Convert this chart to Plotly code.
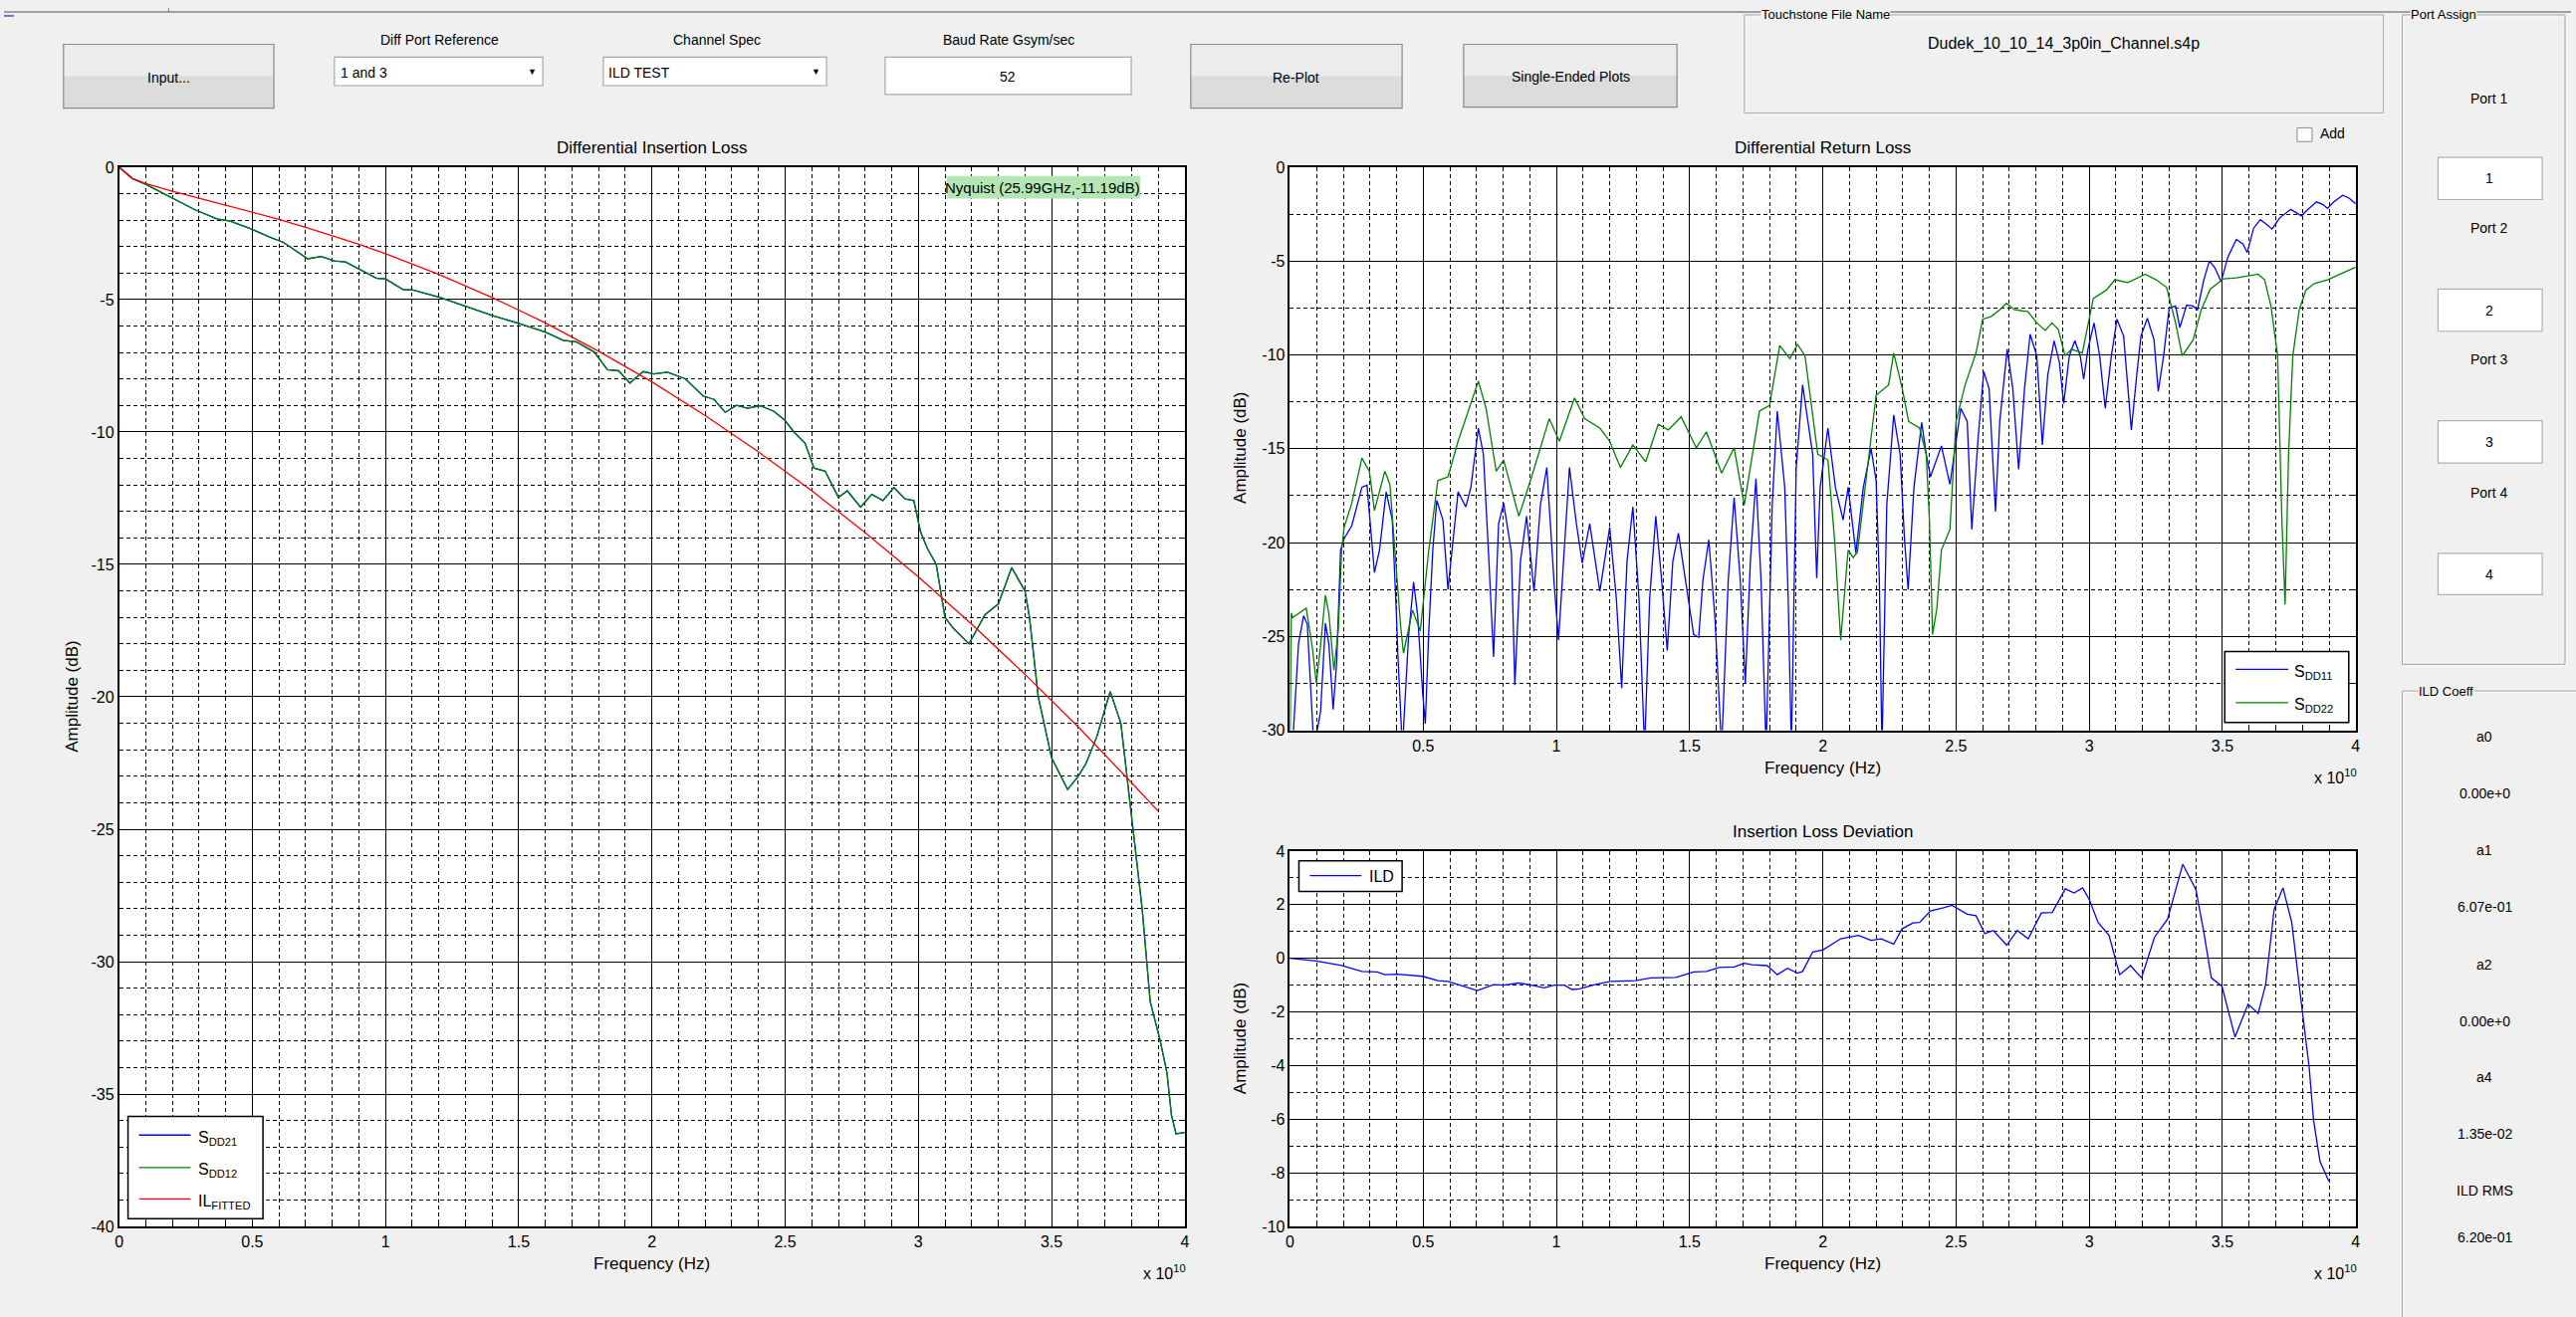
import plotly.graph_objects as go

W, H = 2587, 1323
FONT = "Liberation Sans, Arial, sans-serif"

# ---------------- data (frequency in units of 1e10 Hz, amplitude in dB) ----------------
il_freq = [0, 0.05, 0.1, 0.2, 0.283, 0.367, 0.417, 0.5, 0.567, 0.617, 0.708, 0.758, 0.808, 0.85, 0.9,
           0.967, 1.0, 1.067, 1.1, 1.2, 1.3, 1.4, 1.5, 1.6, 1.667, 1.717, 1.783, 1.833, 1.875, 1.917,
           1.967, 2.008, 2.058, 2.125, 2.192, 2.233, 2.275, 2.317, 2.358, 2.408, 2.458, 2.5, 2.533,
           2.575, 2.608, 2.65, 2.7, 2.733, 2.783, 2.825, 2.867, 2.908, 2.95, 2.983, 3.008, 3.033,
           3.067, 3.1, 3.13, 3.19, 3.25, 3.3, 3.35, 3.4, 3.417, 3.45, 3.5, 3.56, 3.6, 3.63, 3.67,
           3.72, 3.76, 3.8, 3.84, 3.87, 3.908, 3.933, 3.95, 3.967, 4.0]
sdd12_db = [0, -0.43, -0.65, -1.17, -1.6, -1.95, -2.04, -2.35, -2.65, -2.84, -3.46, -3.37, -3.54, -3.58,
            -3.85, -4.2, -4.22, -4.63, -4.63, -4.9, -5.25, -5.6, -5.9, -6.23, -6.54, -6.6, -6.98, -7.65,
            -7.69, -8.15, -7.72, -7.81, -7.74, -7.99, -8.64, -8.77, -9.26, -8.99, -9.1, -9.01, -9.22,
            -9.57, -10.0, -10.43, -11.36, -11.48, -12.47, -12.22, -12.84, -12.35, -12.59, -12.1, -12.53,
            -12.59, -13.77, -14.38, -15.0, -17.0, -17.4, -18.0, -16.9, -16.5, -15.12, -16.0, -17.0,
            -20.0, -22.3, -23.5, -23.0, -22.5, -21.5, -19.8, -21.0, -24.5, -28.0, -31.5, -33.0, -34.2,
            -35.8, -36.5, -36.45]
sdd21_db = list(sdd12_db)  # visually identical, drawn underneath

fit_freq = [0, 0.05, 0.1, 0.2, 0.3, 0.4, 0.5, 0.6, 0.7, 0.8, 0.9, 1.0, 1.2, 1.4, 1.6, 1.8, 2.0, 2.2,
            2.4, 2.6, 2.8, 3.0, 3.2, 3.4, 3.6, 3.8, 3.9]
fit_db = [0, -0.43, -0.62, -0.91, -1.17, -1.43, -1.69, -1.97, -2.27, -2.58, -2.91, -3.27, -4.05,
          -4.92, -5.88, -6.95, -8.11, -9.38, -10.75, -12.22, -13.8, -15.47, -17.26, -19.15, -21.14,
          -23.24, -24.32]

sdd11_freq = [0.005, 0.032, 0.051, 0.065, 0.08, 0.09, 0.115, 0.133, 0.146, 0.162, 0.175, 0.19, 0.203,
              0.232, 0.27, 0.289, 0.317, 0.336, 0.361, 0.384, 0.4, 0.405, 0.422, 0.445, 0.464, 0.479,
              0.498, 0.508, 0.521, 0.536, 0.551, 0.574, 0.593, 0.631, 0.66, 0.679, 0.707, 0.726, 0.745,
              0.764, 0.783, 0.802, 0.831, 0.844, 0.865, 0.888, 0.916, 0.94, 0.964, 0.992, 1.008, 1.03,
              1.049, 1.075, 1.097, 1.125, 1.163, 1.2, 1.225, 1.245, 1.265, 1.287, 1.31, 1.331, 1.35,
              1.373, 1.395, 1.416, 1.437, 1.458, 1.496, 1.515, 1.534, 1.55, 1.572, 1.595, 1.62, 1.645,
              1.667, 1.69, 1.709, 1.728, 1.749, 1.768, 1.787, 1.81, 1.829, 1.857, 1.87, 1.882, 1.9,
              1.924, 1.962, 1.977, 1.99, 2.019, 2.047, 2.076, 2.095, 2.124, 2.152, 2.181, 2.2, 2.212,
              2.222, 2.24, 2.266, 2.29, 2.306, 2.32, 2.342, 2.371, 2.388, 2.404, 2.445, 2.477, 2.493,
              2.518, 2.542, 2.559, 2.583, 2.604, 2.624, 2.648, 2.664, 2.692, 2.713, 2.735, 2.757, 2.778,
              2.803, 2.824, 2.844, 2.868, 2.888, 2.904, 2.925, 2.946, 2.966, 2.979, 2.995, 3.018, 3.039,
              3.06, 3.083, 3.104, 3.129, 3.145, 3.158, 3.178, 3.194, 3.218, 3.243, 3.259, 3.279, 3.3,
              3.324, 3.34, 3.365, 3.389, 3.406, 3.43, 3.451, 3.471, 3.495, 3.52, 3.552, 3.577, 3.593,
              3.617, 3.642, 3.666, 3.686, 3.715, 3.756, 3.78, 3.796, 3.821, 3.853, 3.878, 3.894, 3.918,
              3.951, 3.975, 4.0]
sdd11_db = [-32, -25.4, -23.9, -24.35, -28.35, -31, -29, -24.3, -25.4, -28.9, -26.45, -20.4, -19.8,
            -19.1, -17.05, -16.95, -21.6, -20.4, -17.3, -18.8, -24, -26, -31, -25, -22.1, -23.85, -28.0,
            -29.65, -24.7, -20.4, -17.75, -18.8, -22.5, -17.3, -18.1, -17.05, -13.9, -15.3, -20.5,
            -26.1, -19, -17.9, -20.5, -27.6, -21, -18.6, -22.6, -18, -16.0, -22.3, -25.2, -20, -16.0,
            -19, -21.1, -19.0, -22.6, -19.2, -23, -27.75, -21, -18.1, -23, -31, -23, -18.6, -22,
            -25.75, -21, -19.5, -23.0, -24.9, -25.05, -22, -19.85, -24, -31, -22, -17.6, -22, -27.5,
            -21, -16.6, -22, -31, -18, -13.0, -17.05, -23, -31, -16, -11.6, -15.3, -21.9, -17.05,
            -13.9, -17.05, -18.8, -17.05, -20.55, -17.05, -15.0, -16.7, -22, -31, -18, -13.2, -15.3,
            -19.7, -22.5, -17.05, -13.6, -15.3, -16.5, -14.85, -16.9, -15.3, -12.85, -13.55, -19.3,
            -14.4, -10.9, -11.8, -18.35, -13.55, -9.7, -11.8, -16.1, -11.8, -8.9, -10.05, -14.8, -11.1,
            -9.25, -10.4, -12.6, -10.05, -9.25, -10.05, -11.3, -9.7, -8.3, -10.05, -12.85, -10.05, -8.1,
            -9.0, -11.8, -14.0, -11.1, -9.0, -8.05, -9.2, -11.95, -10.05, -7.5, -7.4, -8.55, -7.35,
            -7.4, -7.6, -6.0, -5.0, -5.35, -6.1, -4.8, -3.85, -4.1, -4.55, -3.25, -2.8, -3.05, -3.3,
            -2.7, -2.25, -2.45, -2.6, -2.25, -1.85, -2.0, -2.2, -1.85, -1.5, -1.65, -1.95]

sdd22_freq = [0.0, 0.005, 0.01, 0.061, 0.084, 0.099, 0.114, 0.133, 0.146, 0.165, 0.181, 0.194, 0.203,
              0.232, 0.27, 0.298, 0.317, 0.356, 0.375, 0.403, 0.415, 0.426, 0.46, 0.489, 0.508, 0.521,
              0.555, 0.593, 0.631, 0.707, 0.736, 0.774, 0.802, 0.859, 0.907, 0.973, 1.011, 1.068, 1.106,
              1.163, 1.2, 1.24, 1.287, 1.335, 1.382, 1.42, 1.468, 1.525, 1.563, 1.62, 1.667, 1.705,
              1.762, 1.8, 1.838, 1.876, 1.905, 1.933, 1.981, 2.019, 2.045, 2.067, 2.095, 2.114, 2.13,
              2.171, 2.2, 2.247, 2.266, 2.298, 2.322, 2.363, 2.388, 2.4, 2.412, 2.428, 2.445, 2.477,
              2.5, 2.534, 2.575, 2.6, 2.632, 2.664, 2.689, 2.72, 2.77, 2.803, 2.835, 2.86, 2.884, 2.909,
              2.933, 2.974, 3.015, 3.064, 3.096, 3.145, 3.21, 3.251, 3.29, 3.324, 3.349, 3.39, 3.42,
              3.454, 3.503, 3.552, 3.6, 3.634, 3.658, 3.682, 3.707, 3.723, 3.735, 3.748, 3.764, 3.788,
              3.813, 3.845, 3.894, 3.943, 4.0]
sdd22_db = [-31, -23.75, -24.0, -23.5, -25.6, -27.5, -25.6, -22.8, -23.8, -26.8, -24.7, -20.4, -19.2,
            -17.9, -15.5, -16.2, -18.3, -16.2, -16.9, -22.3, -24.4, -25.9, -23.6, -24.7, -22.1, -20.4,
            -16.7, -16.5, -14.6, -11.4, -12.85, -16.2, -15.6, -18.6, -16.5, -13.4, -14.6, -12.3, -13.4,
            -13.9, -14.6, -16.0, -14.8, -15.7, -13.7, -14.0, -13.3, -14.95, -14.1, -16.3, -14.95,
            -18.0, -13.0, -12.7, -9.5, -10.2, -9.44, -10.05, -15.3, -15.6, -20, -25.2, -20.4, -20.8,
            -20.5, -15.6, -12.15, -11.6, -9.9, -11.8, -13.55, -13.9, -15.3, -18.8, -24.9, -23.5,
            -20.4, -19.3, -13.55, -11.6, -9.9, -8.1, -7.95, -7.6, -7.25, -7.6, -7.7, -8.3, -8.7, -8.3,
            -8.65, -10.05, -9.7, -9.9, -7.0, -6.55, -6.0, -6.15, -5.7, -6.0, -6.4, -8.3, -10.05, -9.2,
            -7.6, -6.5, -5.95, -5.9, -5.8, -5.7, -6.0, -7.4, -10.05, -18.8, -23.3, -15.3, -10.05, -7.6,
            -6.55, -6.2, -6.0, -5.7, -5.33]

ild_freq = [0, 0.099, 0.194, 0.27, 0.327, 0.356, 0.403, 0.498, 0.555, 0.593, 0.65, 0.703, 0.764, 0.802,
            0.859, 0.897, 0.954, 0.992, 1.03, 1.059, 1.087, 1.144, 1.202, 1.297, 1.354, 1.449, 1.515,
            1.563, 1.61, 1.667, 1.705, 1.734, 1.791, 1.829, 1.867, 1.905, 1.924, 1.962, 2.0, 2.067,
            2.133, 2.181, 2.219, 2.266, 2.297, 2.338, 2.363, 2.404, 2.453, 2.485, 2.542, 2.575, 2.608,
            2.64, 2.69, 2.73, 2.771, 2.82, 2.861, 2.91, 2.943, 2.975, 3.0, 3.033, 3.074, 3.114, 3.155,
            3.196, 3.245, 3.294, 3.351, 3.4, 3.43, 3.458, 3.498, 3.547, 3.596, 3.634, 3.662, 3.694,
            3.727, 3.76, 3.801, 3.825, 3.842, 3.866, 3.899]
ild_db = [0, -0.1, -0.27, -0.49, -0.51, -0.61, -0.59, -0.67, -0.83, -0.86, -1.04, -1.2, -0.98, -1.0,
          -0.92, -0.98, -1.1, -1.0, -1.0, -1.16, -1.14, -0.98, -0.86, -0.83, -0.73, -0.71, -0.51, -0.49,
          -0.34, -0.32, -0.18, -0.24, -0.27, -0.61, -0.37, -0.55, -0.49, 0.24, 0.31, 0.73, 0.86, 0.67,
          0.73, 0.53, 1.1, 1.32, 1.34, 1.77, 1.89, 1.98, 1.65, 1.59, 0.92, 1.04, 0.49, 1.04, 0.73, 1.69,
          1.71, 2.59, 2.44, 2.63, 2.2, 1.34, 0.86, -0.61, -0.27, -0.73, 0.79, 1.47, 3.51, 2.57, 0.98,
          -0.73, -1.04, -2.93, -1.71, -2.05, -0.98, 1.83, 2.63, 1.34, -2.08, -4.03, -6.05, -7.58, -8.31]

freq_ticks = [0, 0.5, 1, 1.5, 2, 2.5, 3, 3.5, 4]
freq_ticktext = ["0", "0.5", "1", "1.5", "2", "2.5", "3", "3.5", "4"]
il_yticks = [0, -5, -10, -15, -20, -25, -30, -35, -40]
rl_yticks = [0, -5, -10, -15, -20, -25, -30]
ild_yticks = [4, 2, 0, -2, -4, -6, -8, -10]

port_labels = ["Port 1", "Port 2", "Port 3", "Port 4"]
port_values = ["1", "2", "3", "4"]
coeff_labels = ["a0", "a1", "a2", "a4", "ILD RMS"]
coeff_values = ["0.00e+0", "6.07e-01", "0.00e+0", "1.35e-02", "6.20e-01"]

BLUE, GREEN, RED = "#0000ff", "#008000", "#ff0000"

# ---------------- figure ----------------
fig = go.Figure()
LW = 1.3
fig.add_trace(go.Scatter(x=il_freq, y=sdd21_db, mode="lines", line=dict(color=BLUE, width=LW),
                         xaxis="x", yaxis="y", showlegend=False))
fig.add_trace(go.Scatter(x=il_freq, y=sdd12_db, mode="lines", line=dict(color=GREEN, width=LW),
                         xaxis="x", yaxis="y", showlegend=False))
fig.add_trace(go.Scatter(x=fit_freq, y=fit_db, mode="lines", line=dict(color=RED, width=LW),
                         xaxis="x", yaxis="y", showlegend=False))
fig.add_trace(go.Scatter(x=sdd11_freq, y=sdd11_db, mode="lines", line=dict(color=BLUE, width=LW),
                         xaxis="x2", yaxis="y2", showlegend=False))
fig.add_trace(go.Scatter(x=sdd22_freq, y=sdd22_db, mode="lines", line=dict(color=GREEN, width=LW),
                         xaxis="x2", yaxis="y2", showlegend=False))
fig.add_trace(go.Scatter(x=ild_freq, y=ild_db, mode="lines", line=dict(color=BLUE, width=LW),
                         xaxis="x3", yaxis="y3", showlegend=False))


def px(x):
    return x / W


def py(y):
    return 1 - y / H


def base_axis(domain, rng, tickvals, ticktext, minor_dtick, anchor):
    return dict(domain=domain, range=rng, anchor=anchor, tickmode="array", tickvals=tickvals,
                ticktext=ticktext, showgrid=True, gridcolor="black", gridwidth=1.2, zeroline=False,
                showline=True, linecolor="black", linewidth=1.6, mirror="ticks", ticks="inside",
                ticklen=8, tickcolor="black", tickwidth=1,
                tickfont=dict(size=16, color="black", family=FONT), fixedrange=True,
                minor=dict(tickmode="linear", tick0=0, dtick=minor_dtick, showgrid=True,
                           gridcolor="black", gridwidth=1.3, griddash="4px,3px", ticks="inside",
                           ticklen=4, tickcolor="black"))


L = (116, 1190, 162, 1240)
TR = (1296, 2370, 162, 735)
BR = (1296, 2370, 858, 1240)


def xdom(b):
    return [px(b[0]), px(b[1])]


def ydom(b):
    return [py(b[3]), py(b[2])]


layout = dict(
    width=W, height=H, margin=dict(l=0, r=0, t=0, b=0), autosize=False,
    paper_bgcolor="#f0f0f0", plot_bgcolor="white", showlegend=False,
    font=dict(family=FONT, color="black", size=14),
    xaxis=base_axis(xdom(L), [0, 4], freq_ticks, freq_ticktext, 0.1, "y"),
    yaxis=base_axis(ydom(L), [-40, 0], il_yticks, [str(v) for v in il_yticks], 1, "x"),
    xaxis2=base_axis(xdom(TR), [0, 4], freq_ticks[1:], freq_ticktext[1:], 0.1, "y2"),
    yaxis2=base_axis(ydom(TR), [-30, 0], rl_yticks, [str(v) for v in rl_yticks], 2.5, "x2"),
    xaxis3=base_axis(xdom(BR), [0, 4], freq_ticks, freq_ticktext, 0.1, "y3"),
    yaxis3=base_axis(ydom(BR), [-10, 4], ild_yticks, [str(v) for v in ild_yticks], 1, "x3"),
)
fig.update_layout(**layout)

shapes = []
annos = []


def rect(x0, y0, x1, y1, fill="rgba(0,0,0,0)", line="#000000", lw=1):
    shapes.append(dict(type="rect", xref="paper", yref="paper", x0=px(x0), x1=px(x1), y0=py(y1),
                       y1=py(y0), fillcolor=fill, line=dict(color=line, width=lw), layer="above"))


def seg(x0, y0, x1, y1, color, lw=1):
    shapes.append(dict(type="line", xref="paper", yref="paper", x0=px(x0), x1=px(x1), y0=py(y0),
                       y1=py(y1), line=dict(color=color, width=lw), layer="above"))


def text(x, y, s, size=14, xanchor="center", bg=None, angle=0, color="black"):
    d = dict(xref="paper", yref="paper", x=px(x), y=py(y), text=s, showarrow=False, xanchor=xanchor,
             yanchor="middle", font=dict(size=size, color=color, family=FONT), textangle=angle,
             borderpad=0)
    if bg:
        d["bgcolor"] = bg
    annos.append(d)


# titles and axis labels
text(653, 142, "Differential Insertion Loss", 17)
text(1833, 142, "Differential Return Loss", 17)
text(1833, 838, "Insertion Loss Deviation", 17)
text(653, 1278, "Frequency (Hz)", 17)
text(1833, 773, "Frequency (Hz)", 17)
text(1833, 1278, "Frequency (Hz)", 17)
text(69, 701, "Amplitude (dB)", 17, angle=-90)
text(1246, 448, "Amplitude (dB)", 17, angle=-90)
text(1246, 1049, "Amplitude (dB)", 17, angle=-90)
text(1192, 1287, "x 10<sup>10</sup>", 16, xanchor="right")
text(2372, 782, "x 10<sup>10</sup>", 16, xanchor="right")
text(2372, 1287, "x 10<sup>10</sup>", 16, xanchor="right")

# Nyquist marker box
rect(950, 171, 1145, 194, fill="#b4e6b4", line="#b4e6b4", lw=0)
text(1047, 183, "Nyquist (25.99GHz,-11.19dB)", 15)

# legends
rect(125, 1128, 261, 1232, fill="white", line="black", lw=1.5)
for yy, col, lab in [(1147, BLUE, "S<sub>DD21</sub>"), (1180, GREEN, "S<sub>DD12</sub>"),
                     (1212, RED, "IL<sub>FITTED</sub>")]:
    seg(136, yy, 188, yy, col, 1.3)
    text(195, yy + 3, lab, 16, xanchor="left")
rect(2238, 655, 2363, 727, fill="white", line="black", lw=1.5)
for yy, col, lab in [(673, BLUE, "S<sub>DD11</sub>"), (707, GREEN, "S<sub>DD22</sub>")]:
    seg(2249, yy, 2302, yy, col, 1.3)
    text(2307, yy + 3, lab, 16, xanchor="left")
rect(1305, 868, 1409, 899, fill="white", line="black", lw=1.5)
seg(1316, 883, 1368, 883, BLUE, 1.3)
text(1375, 884, "ILD", 16, xanchor="left")

# ---------------- GUI widgets ----------------
seg(0, 4, W, 4, "#a0a0a0", 2)
seg(0, 8, 10, 8, "#5b7fc7", 2)
seg(166, 0, 166, 4, "#5b7fc7", 1)


def button(x0, y0, x1, y1, label):
    rect(x0, y0, x1, y1, fill="#ececec", line="#ececec", lw=0)
    rect(x0, (y0 + y1) / 2, x1, y1, fill="#dcdcdc", line="#dcdcdc", lw=0)
    rect(x0, y0, x1, y1, line="#8a8a8a", lw=1.2)
    text((x0 + x1) / 2, (y0 + y1) / 2 + 1, label, 14)


button(60, 37, 272, 102, "Input...")
button(1196, 37, 1409, 102, "Re-Plot")
button(1471, 37, 1686, 101, "Single-Ended Plots")

text(439, 32, "Diff Port Reference", 14)
text(718, 32, "Channel Spec", 14)
text(1013, 32, "Baud Rate Gsym/sec", 14)

rect(333, 50, 543, 79, fill="white", line="#a8a8a8", lw=1.2)
text(338, 66, "1 and 3", 14, xanchor="left")
text(532, 65, "\u25BC", 9)
rect(604, 50, 829, 79, fill="white", line="#a8a8a8", lw=1.2)
text(608, 66, "ILD TEST", 14, xanchor="left")
text(818, 65, "\u25BC", 9)
rect(888, 50, 1136, 88, fill="white", line="#a8a8a8", lw=1.2)
text(1012, 70, "52", 14)


def groupbox(x0, y0, x1, y1, title, tx):
    rect(x0 + 1, y0 + 1, x1 + 1, y1 + 1, line="white", lw=1)
    rect(x0, y0, x1, y1, line="#a0a0a0", lw=1)
    text(tx, y0, title, 13, xanchor="left", bg="#f0f0f0")


groupbox(1754, 7, 2398, 107, "Touchstone File Name", 1770)
text(2076, 36, "Dudek_10_10_14_3p0in_Channel.s4p", 16)

rect(2311, 122, 2326, 136, fill="white", line="#8a8a8a", lw=1)
text(2333, 128, "Add", 14, xanchor="left")

groupbox(2417, 7, 2581, 668, "Port Assign", 2424)
port_label_y = [92, 224, 358, 493]
port_box_y = [(152, 195), (286, 329), (420, 463), (555, 597)]
for lab, val, ly, (b0, b1) in zip(port_labels, port_values, port_label_y, port_box_y):
    text(2505, ly, lab, 14)
    rect(2453, b0, 2558, b1, fill="white", line="#b0b0b0", lw=1.2)
    text(2505, (b0 + b1) / 2, val, 14)

groupbox(2417, 695, 2600, 1340, "ILD Coeff", 2432)
coeff_label_y = [742, 857, 974, 1088, 1203]
coeff_value_y = [799, 915, 1031, 1146, 1251]
for lab, val, ly, vy in zip(coeff_labels, coeff_values, coeff_label_y, coeff_value_y):
    text(2500, ly, lab, 14)
    text(2500, vy, val, 14)

fig.update_layout(shapes=shapes, annotations=annos)

fig.write_html("out.html", include_plotlyjs=True, config={"displayModeBar": False},
               post_script="document.body.style.margin='0px';document.body.style.overflow='hidden';")
